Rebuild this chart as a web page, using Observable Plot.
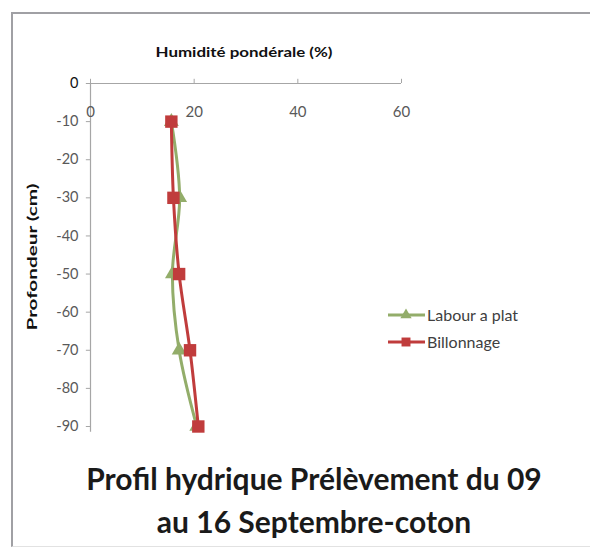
<!DOCTYPE html>
<html>
<head>
<meta charset="utf-8">
<script src="https://cdn.jsdelivr.net/npm/d3@7"></script>
<script src="https://cdn.jsdelivr.net/npm/@observablehq/plot@0.6"></script>
<style>
  html, body { margin: 0; padding: 0; background: #fff; }
  #wrap { position: relative; width: 590px; height: 548px; overflow: hidden; }
  #frame { position: absolute; left: 11px; top: 12px; width: 590px; height: 532px;
           border-left: 2px solid #a0a0a4; border-top: 2px solid #a0a0a4; border-bottom: 1px solid #e2e2e2; }
  #chart { position: absolute; left: 0; top: 0; }
  #title { position: absolute; left: 0; top: 457px; width: 628px; text-align: center;
           font-family: Lato, sans-serif; font-weight: bold; font-size: 30px; line-height: 43px; color: #1a1a1a; }
</style>
</head>
<body>
<div id="wrap">
  <div id="frame"></div>
  <div id="chart"></div>
  <div id="title">Profil hydrique Prélèvement du 09<br>au 16 Septembre-coton</div>
</div>
<script>
// ---- data ----
const depths = [-10, -30, -50, -70, -90];
const labourAPlat = [15.6, 17.2, 15.8, 17.1, 20.5];
const billonnage = [15.6, 16.0, 17.1, 19.2, 20.8];
const seriesNames = ["Labour a plat", "Billonnage"];
const seriesColors = ["#93ad6a", "#c03c3c"];
const xTicks = [0, 20, 40, 60];
const yTicks = [0, -10, -20, -30, -40, -50, -60, -70, -80, -90];
const xTitle = "Humidité pondérale (%)";
const yTitle = "Profondeur (cm)";

const labourData = depths.map((d, i) => ({depth: d, value: labourAPlat[i]}));
const billData = depths.map((d, i) => ({depth: d, value: billonnage[i]}));

const axisGray = "#a6a6a6";
const labelGray = "#595959";

const plot = Plot.plot({
  width: 590,
  height: 440,
  marginLeft: 90,
  marginRight: 189,
  marginTop: 83,
  marginBottom: 14,
  style: {fontFamily: "Lato, sans-serif", background: "transparent", overflow: "visible"},
  x: {domain: [0, 60], axis: null},
  y: {domain: [-90, 0], axis: null},
  marks: [
    Plot.ruleY([0], {stroke: axisGray, strokeWidth: 1.2}),
    Plot.ruleX([0], {y1: 0, y2: -91.5, stroke: axisGray, strokeWidth: 1.2}),
    Plot.ruleX(xTicks, {x: d => d, y1: 0, y2: 1.1, stroke: axisGray}),
    Plot.ruleY(yTicks, {y: d => d, x1: -0.8, x2: 0, stroke: axisGray}),
    Plot.text(xTicks, {x: d => d, y: 0, dy: 29, text: d => String(d), fill: labelGray, fontSize: 15}),
    Plot.text(yTicks, {x: 0, y: d => d, dx: -12, text: d => String(d), textAnchor: "end",
      fill: d => d === 0 ? "#111" : labelGray, fontWeight: d => d === 0 ? "bold" : "normal", fontSize: 14.5}),
    Plot.line(labourData, {x: "value", y: "depth", stroke: seriesColors[0], strokeWidth: 3, curve: "catmull-rom"}),
    Plot.dot(labourData, {x: "value", y: "depth", symbol: "triangle", r: 5.5, fill: seriesColors[0], stroke: "none"}),
    Plot.line(billData, {x: "value", y: "depth", stroke: seriesColors[1], strokeWidth: 3, curve: "catmull-rom"}),
    Plot.dot(billData, {x: "value", y: "depth", symbol: "square", r: 7, fill: seriesColors[1], stroke: "none"})
  ]
});
document.getElementById("chart").appendChild(plot);

// axis titles and legend
const svg = d3.select(plot);
svg.append("text").attr("x", 244).attr("y", 57).attr("text-anchor", "middle")
  .attr("font-family", "Lato, sans-serif").attr("font-weight", "bold").attr("font-size", 14)
  .attr("textLength", 177).attr("lengthAdjust", "spacingAndGlyphs")
  .attr("fill", "#111").text(xTitle);
svg.append("text").attr("transform", "translate(37,257) rotate(-90)").attr("text-anchor", "middle")
  .attr("font-family", "Lato, sans-serif").attr("font-weight", "bold").attr("font-size", 14)
  .attr("textLength", 147).attr("lengthAdjust", "spacingAndGlyphs")
  .attr("fill", "#111").text(yTitle);

const sym = [d3.symbolTriangle, d3.symbolSquare];
const legY = [315, 342];
seriesNames.forEach((name, i) => {
  const g = svg.append("g");
  g.append("line").attr("x1", 388).attr("x2", 425).attr("y1", legY[i]).attr("y2", legY[i])
    .attr("stroke", seriesColors[i]).attr("stroke-width", 3);
  g.append("path").attr("d", d3.symbol(sym[i], i === 0 ? 55 : 80)())
    .attr("transform", `translate(406,${legY[i]})`).attr("fill", seriesColors[i]);
  g.append("text").attr("x", 427).attr("y", legY[i]).attr("dy", "0.35em").attr("text-anchor", "start")
    .attr("font-family", "Lato, sans-serif").attr("font-size", 16).attr("fill", "#404040").text(name);
});
</script>
</body>
</html>
